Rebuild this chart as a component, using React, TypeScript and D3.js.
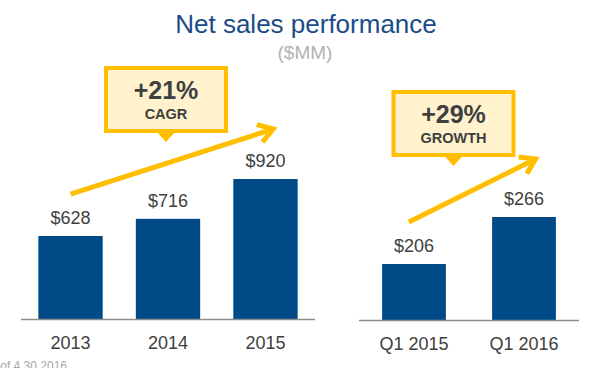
import React from "react";
import * as d3 from "d3";

// data
const annualYears = ["2013", "2014", "2015"];
const annualSales = [628, 716, 920];
const quarterLabels = ["Q1 2015", "Q1 2016"];
const quarterSales = [206, 266];
const cagrText = ["+21%", "CAGR"];
const growthText = ["+29%", "GROWTH"];

const W = 601;
const H = 368;
const font = "'Liberation Sans', Arial, sans-serif";
const barColor = "#004b87";
const gold = "#ffbf00";
const textColor = "#404040";

// arrow with an open chevron head
const Arrow = ({ x1, y1, x2, y2 }: { x1: number; y1: number; x2: number; y2: number }) => {
  const back = Math.atan2(y1 - y2, x1 - x2);
  const len = 17;
  const spread = (33 * Math.PI) / 180;
  const a1 = [x2 + len * Math.cos(back - spread), y2 + len * Math.sin(back - spread)];
  const a2 = [x2 + len * Math.cos(back + spread), y2 + len * Math.sin(back + spread)];
  const p = d3.path();
  p.moveTo(a1[0], a1[1]);
  p.lineTo(x2, y2);
  p.lineTo(a2[0], a2[1]);
  return (
    <g stroke={gold} strokeWidth={5} fill="none">
      <line x1={x1} y1={y1} x2={x2 - 2 * Math.cos(back + Math.PI)} y2={y2 - 2 * Math.sin(back + Math.PI)} />
      <path d={p.toString()} strokeLinejoin="miter" />
    </g>
  );
};

// yellow callout box with a small pointer below
const Callout = ({ cx, top, lines }: { cx: number; top: number; lines: string[] }) => {
  const w = 120;
  const h = 63;
  const tri = d3.path();
  tri.moveTo(cx - 10, top + h);
  tri.lineTo(cx + 10, top + h);
  tri.lineTo(cx, top + h + 11);
  tri.closePath();
  return (
    <g>
      <rect x={cx - w / 2} y={top} width={w} height={h} fill="#fff2cc" stroke={gold} strokeWidth={4} />
      <path d={tri.toString()} fill={gold} />
      <text x={cx} y={top + 31} textAnchor="middle" fontFamily={font} fontWeight="bold" fontSize={25} fill={textColor}>
        {lines[0]}
      </text>
      <text x={cx} y={top + 51} textAnchor="middle" fontFamily={font} fontWeight="bold" fontSize={14.5} fill={textColor}>
        {lines[1]}
      </text>
    </g>
  );
};

export default function App() {
  // left panel: annual
  const xL = d3.scaleBand<string>().domain(annualYears).range([21, 315]).paddingInner(0.34).paddingOuter(0.178);
  const yL = d3.scaleLinear().domain([203, 920]).range([319, 179]);
  // right panel: quarterly
  const xR = d3.scaleBand<string>().domain(quarterLabels).range([359, 579]).paddingInner(0.42).paddingOuter(0.21);
  const yR = d3.scaleLinear().domain([134.5, 266]).range([320, 217]);

  const bwL = xL.bandwidth();
  const bwR = xR.bandwidth();

  return (
    <svg width={W} height={H} style={{ position: "absolute", left: 0, top: 0, background: "#fff" }}>
      <text x={306} y={33} textAnchor="middle" fontFamily={font} fontSize={26} fill="#1a4c86">
        Net sales performance
      </text>
      <text x={305} y={59} textAnchor="middle" fontFamily={font} fontSize={19} fill="#b3b3b3">
        ($MM)
      </text>

      {/* annual bars */}
      {annualYears.map((yr, i) => (
        <g key={yr}>
          <rect x={xL(yr)} y={yL(annualSales[i])} width={bwL} height={yL(203) - yL(annualSales[i])} fill={barColor} />
          <text x={xL(yr)! + bwL / 2} y={yL(annualSales[i]) - 12} textAnchor="middle" fontFamily={font} fontSize={18} fill={textColor}>
            ${annualSales[i]}
          </text>
          <text x={xL(yr)! + bwL / 2} y={349} textAnchor="middle" fontFamily={font} fontSize={18} fill={textColor}>
            {yr}
          </text>
        </g>
      ))}
      <line x1={21} x2={315} y1={319.5} y2={319.5} stroke="#8c8c8c" strokeWidth={1.5} />

      {/* quarterly bars */}
      {quarterLabels.map((q, i) => (
        <g key={q}>
          <rect x={xR(q)} y={yR(quarterSales[i])} width={bwR} height={yR(134.5) - yR(quarterSales[i])} fill={barColor} />
          <text x={xR(q)! + bwR / 2} y={yR(quarterSales[i]) - 12} textAnchor="middle" fontFamily={font} fontSize={18} fill={textColor}>
            ${quarterSales[i]}
          </text>
          <text x={xR(q)! + bwR / 2} y={349.5} textAnchor="middle" fontFamily={font} fontSize={18} fill={textColor}>
            {q}
          </text>
        </g>
      ))}
      <line x1={359} x2={579} y1={320.5} y2={320.5} stroke="#8c8c8c" strokeWidth={1.5} />

      {/* growth arrows and callouts */}
      <Arrow
        x1={xL(annualYears[0])! + bwL / 2}
        y1={yL(annualSales[0]) - 42}
        x2={xL(annualYears[2])! + bwL * 0.62}
        y2={yL(annualSales[2]) - 50}
      />
      <Callout cx={166} top={68} lines={cagrText} />

      <Arrow
        x1={xR(quarterLabels[0])! + bwR * 0.42}
        y1={yR(quarterSales[0]) - 42}
        x2={xR(quarterLabels[1])! + bwR * 0.68}
        y2={yR(quarterSales[1]) - 58}
      />
      <Callout cx={453.5} top={92} lines={growthText} />

      <text x={67} y={370} textAnchor="end" fontFamily={font} fontSize={12} fill="#a6a6a6">
        As of 4.30.2016
      </text>
    </svg>
  );
}
